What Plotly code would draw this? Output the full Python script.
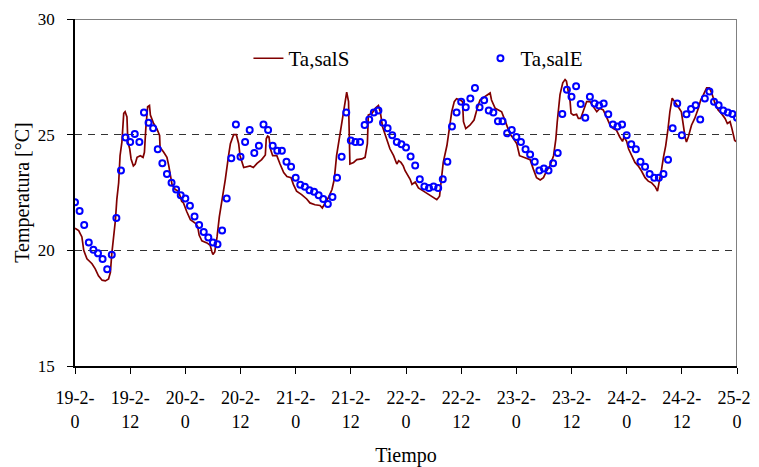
import plotly.graph_objects as go

# Ta,salE (medido, cada hora)
horas_E = list(range(145))
temp_E = [22.08, 21.70, 21.10, 20.34, 20.03, 19.87, 19.63, 19.18, 19.81, 21.40,
          23.45, 24.88, 24.68, 25.03, 24.68, 25.96, 25.51, 25.28, 24.37, 23.76,
          23.30, 22.92, 22.63, 22.38, 22.24, 21.93, 21.46, 21.10, 20.79, 20.56,
          20.34, 20.26, 20.86, 22.24, 23.98, 25.44, 24.05, 24.68, 25.20, 24.21,
          24.52, 25.44, 25.20, 24.52, 24.30, 24.30, 23.83, 23.61, 23.14, 22.84,
          22.75, 22.60, 22.53, 22.38, 22.22, 22.00, 22.31, 23.14, 24.05, 25.96,
          24.75, 24.68, 24.68, 25.42, 25.66, 25.96, 26.04, 25.51, 25.28, 24.97,
          24.68, 24.59, 24.44, 24.06, 23.67, 23.07, 22.76, 22.69, 22.76, 22.69,
          23.07, 23.83, 25.35, 25.96, 26.42, 26.18, 26.56, 27.02, 26.18, 26.49,
          26.04, 25.96, 25.58, 25.58, 25.06, 25.20, 24.90, 24.68, 24.37, 24.14,
          23.83, 23.45, 23.54, 23.45, 23.76, 24.21, 25.89, 26.94, 26.64, 27.09,
          26.33, 25.73, 26.64, 26.35, 26.26, 26.35, 25.88, 25.44, 25.35, 25.44,
          24.97, 24.59, 24.37, 23.83, 23.61, 23.30, 23.14, 23.14, 23.30, 23.92,
          25.28, 26.35, 24.97, 25.88, 26.11, 26.27, 25.66, 26.56, 26.87, 26.42,
          26.27, 26.04, 25.96, 25.89, 25.73]

# Ta,salS (simulado)
horas_S = [0.0, 0.8, 1.5, 1.9, 2.6, 3.7, 4.4, 5.1, 5.9, 6.6, 7.3, 7.7, 8.0, 8.4, 8.8,
           9.1, 9.5, 9.8, 10.2, 10.6, 10.9, 11.3, 11.5, 11.9, 12.2, 12.7, 13.1, 13.5,
           14.2, 14.8, 15.1, 15.4, 15.8, 16.2, 16.4, 17.1, 17.8, 18.4, 18.5, 19.3,
           20.0, 20.4, 20.7, 21.1, 21.8, 22.5, 23.2, 23.6, 24.3, 25.1, 26.2, 26.7,
           27.0, 27.6, 28.7, 29.4, 29.8, 30.0, 30.4, 30.9, 31.4, 31.9, 32.7, 33.4,
           33.8, 34.5, 35.1, 35.6, 35.9, 36.7, 37.4, 38.1, 38.8, 39.6, 40.6, 41.4,
           41.6, 41.9, 42.2, 42.5, 43.0, 43.9, 44.6, 45.4, 46.1, 47.0, 47.5, 48.2,
           49.3, 50.4, 51.1, 52.2, 53.3, 53.8, 54.4, 55.1, 55.9, 56.4, 56.9, 57.5,
           58.0, 58.4, 58.8, 59.1, 59.5, 59.6, 59.8, 60.6, 61.3, 62.4, 63.1, 63.6,
           63.8, 64.6, 65.3, 66.0, 66.4, 66.9, 67.8, 68.5, 69.3, 70.0, 70.4, 70.9,
           71.4, 71.8, 72.9, 73.3, 74.0, 74.7, 75.8, 76.9, 78.0, 78.7, 79.3, 79.8,
           80.1, 80.9, 81.4, 81.95, 82.5, 83.0, 83.8, 84.3, 84.5, 85.0, 85.9, 86.8,
           87.5, 88.1, 89.2, 89.9, 90.3, 90.6, 91.4, 92.1, 92.8, 93.5, 94.3, 94.6,
           95.4, 96.1, 96.7, 97.5, 98.3, 99.0, 99.7, 100.4, 101.2, 101.9, 102.6,
           103.3, 104.1, 104.6, 104.9, 105.5, 106.1, 106.6, 106.9, 107.3, 107.7,
           107.9, 108.4, 109.1, 109.5, 110.0, 110.6, 111.3, 112.0, 112.7, 113.5,
           114.2, 114.9, 115.6, 116.4, 117.1, 117.8, 118.5, 119.1, 119.4, 120.0,
           120.4, 121.1, 121.8, 122.5, 123.2, 124.0, 124.7, 125.4, 126.2, 126.7,
           127.0, 127.6, 128.0, 128.5, 129.0, 129.4, 129.9, 130.5, 131.2, 131.9,
           132.3, 132.7, 133.0, 133.4, 134.1, 134.8, 135.6, 136.1, 136.7, 137.4,
           138.0, 138.5, 139.2, 139.9, 140.6, 141.4, 141.9, 142.5, 142.9, 143.5,
           144.3, 145.0]
temp_S = [20.96, 20.85, 20.58, 20.00, 19.63, 19.42, 19.20, 18.90, 18.71, 18.68, 18.76,
          19.05, 19.85, 20.58, 21.32, 22.20, 22.92, 24.09, 24.68, 25.92, 25.99, 25.77,
          24.68, 24.39, 23.95, 23.65, 23.73, 24.02, 24.09, 24.02, 24.24, 25.26, 26.21,
          26.26, 25.85, 25.48, 25.26, 24.97, 24.46, 24.24, 24.02, 23.65, 23.22, 22.85,
          22.63, 22.56, 22.12, 22.05, 21.68, 21.32, 21.17, 21.02, 20.66, 20.41, 20.32,
          20.22, 19.93, 19.82, 19.93, 20.58, 21.46, 22.05, 23.07, 24.09, 24.61, 25.00,
          25.00, 24.61, 24.09, 23.58, 23.61, 23.65, 23.58, 23.76, 23.92, 24.12, 24.82,
          24.94, 24.90, 24.39, 24.09, 24.09, 23.73, 23.36, 23.19, 23.14, 22.85, 22.56,
          22.41, 22.22, 22.05, 21.97, 21.94, 21.83, 22.05, 22.27, 22.63, 23.07, 24.09,
          24.82, 25.48, 25.85, 26.43, 26.84, 26.43, 24.97, 23.73, 23.80, 23.92, 23.95,
          24.02, 24.61, 25.85, 25.92, 26.14, 26.26, 25.99, 25.34, 24.82, 24.39, 24.09,
          23.73, 23.87, 23.80, 23.65, 23.44, 23.07, 22.85, 22.95, 22.70, 22.56, 22.41,
          22.27, 22.19, 22.34, 23.22, 23.80, 24.53, 25.26, 25.99, 26.43, 26.55, 26.50,
          26.43, 25.56, 25.26, 25.41, 25.63, 26.14, 26.50, 26.65, 26.75, 26.80, 26.50,
          26.14, 26.07, 25.99, 25.63, 25.19, 25.04, 24.82, 24.61, 24.09, 24.02, 23.95,
          23.92, 23.51, 23.14, 23.04, 23.14, 23.44, 23.65, 24.09, 24.82, 25.56, 26.73,
          27.24, 27.38, 27.31, 26.80, 26.43, 25.92, 25.85, 25.88, 25.70, 25.70, 26.07,
          26.43, 26.43, 26.21, 25.99, 26.14, 26.07, 25.77, 25.41, 25.26, 25.19, 24.90,
          24.71, 24.90, 24.71, 24.39, 24.09, 23.80, 23.65, 23.44, 23.14, 22.99, 22.92,
          22.75, 22.56, 22.85, 23.51, 24.02, 24.53, 25.26, 25.99, 26.58, 26.43, 26.21,
          25.99, 25.34, 24.90, 24.68, 24.90, 25.41, 25.70, 26.14, 26.50, 26.73, 27.02,
          27.02, 26.80, 26.36, 26.07, 25.92, 25.70, 25.48, 25.56, 25.26, 24.75, 24.65,
          24.65]

tick_horas = [0, 12, 24, 36, 48, 60, 72, 84, 96, 108, 120, 132, 144]
tick_textos = ["19-2-<br>0", "19-2-<br>12", "20-2-<br>0", "20-2-<br>12", "21-2-<br>0",
               "21-2-<br>12", "22-2-<br>0", "22-2-<br>12", "23-2-<br>0", "23-2-<br>12",
               "24-2-<br>0", "24-2-<br>12", "25-2-<br>0"]

fig = go.Figure()
fig.add_trace(go.Scatter(x=horas_S, y=temp_S, mode="lines", name="Ta,salS",
                         line=dict(color="#800000", width=1.7)))
fig.add_trace(go.Scatter(x=horas_E, y=temp_E, mode="markers", name="Ta,salE",
                         marker=dict(symbol="circle-open", color="#0000FF", size=6,
                                     line=dict(width=2, color="#0000FF"))))

# borde superior y derecho grises
fig.add_shape(type="line", xref="x", yref="y", x0=0, x1=144, y0=30, y1=30,
              line=dict(color="#808080", width=2))
fig.add_shape(type="line", xref="x", yref="y", x0=144, x1=144, y0=15, y1=30,
              line=dict(color="#808080", width=2))

fig.update_xaxes(range=[0, 144], tickvals=tick_horas, ticktext=tick_textos,
                 showline=True, linecolor="#000", linewidth=1.5,
                 ticks="outside", ticklen=6, tickcolor="#000",
                 tickfont=dict(size=18), ticklabeloverflow="allow",
                 showgrid=False, zeroline=False, ticklabelstandoff=9, automargin=False,
                 title=dict(text="Tiempo", standoff=20, font=dict(size=20)))
fig.update_yaxes(range=[15, 30], tickvals=[15, 20, 25, 30],
                 showline=True, linecolor="#000", linewidth=1.5,
                 ticks="outside", ticklen=6, tickcolor="#000",
                 tickfont=dict(size=17),
                 showgrid=True, gridcolor="#333", griddash="7px,6px", gridwidth=1,
                 zeroline=False, ticklabelstandoff=9, automargin=False,
                 title=dict(text="Temperatura [°C]", standoff=3, font=dict(size=20)))

# la pagina tiene 8 px de margen
fig.update_layout(width=759, height=459,
                  margin=dict(l=67, r=30, t=11, b=101),
                  plot_bgcolor="white", paper_bgcolor="white",
                  font=dict(family="Liberation Serif", size=18, color="#000"),
                  showlegend=True,
                  legend=dict(orientation="h", x=0.262, y=0.945, xanchor="left", yanchor="top",
                              entrywidth=187, bgcolor="rgba(0,0,0,0)",
                              font=dict(size=21)))

fig.write_html("out.html")
